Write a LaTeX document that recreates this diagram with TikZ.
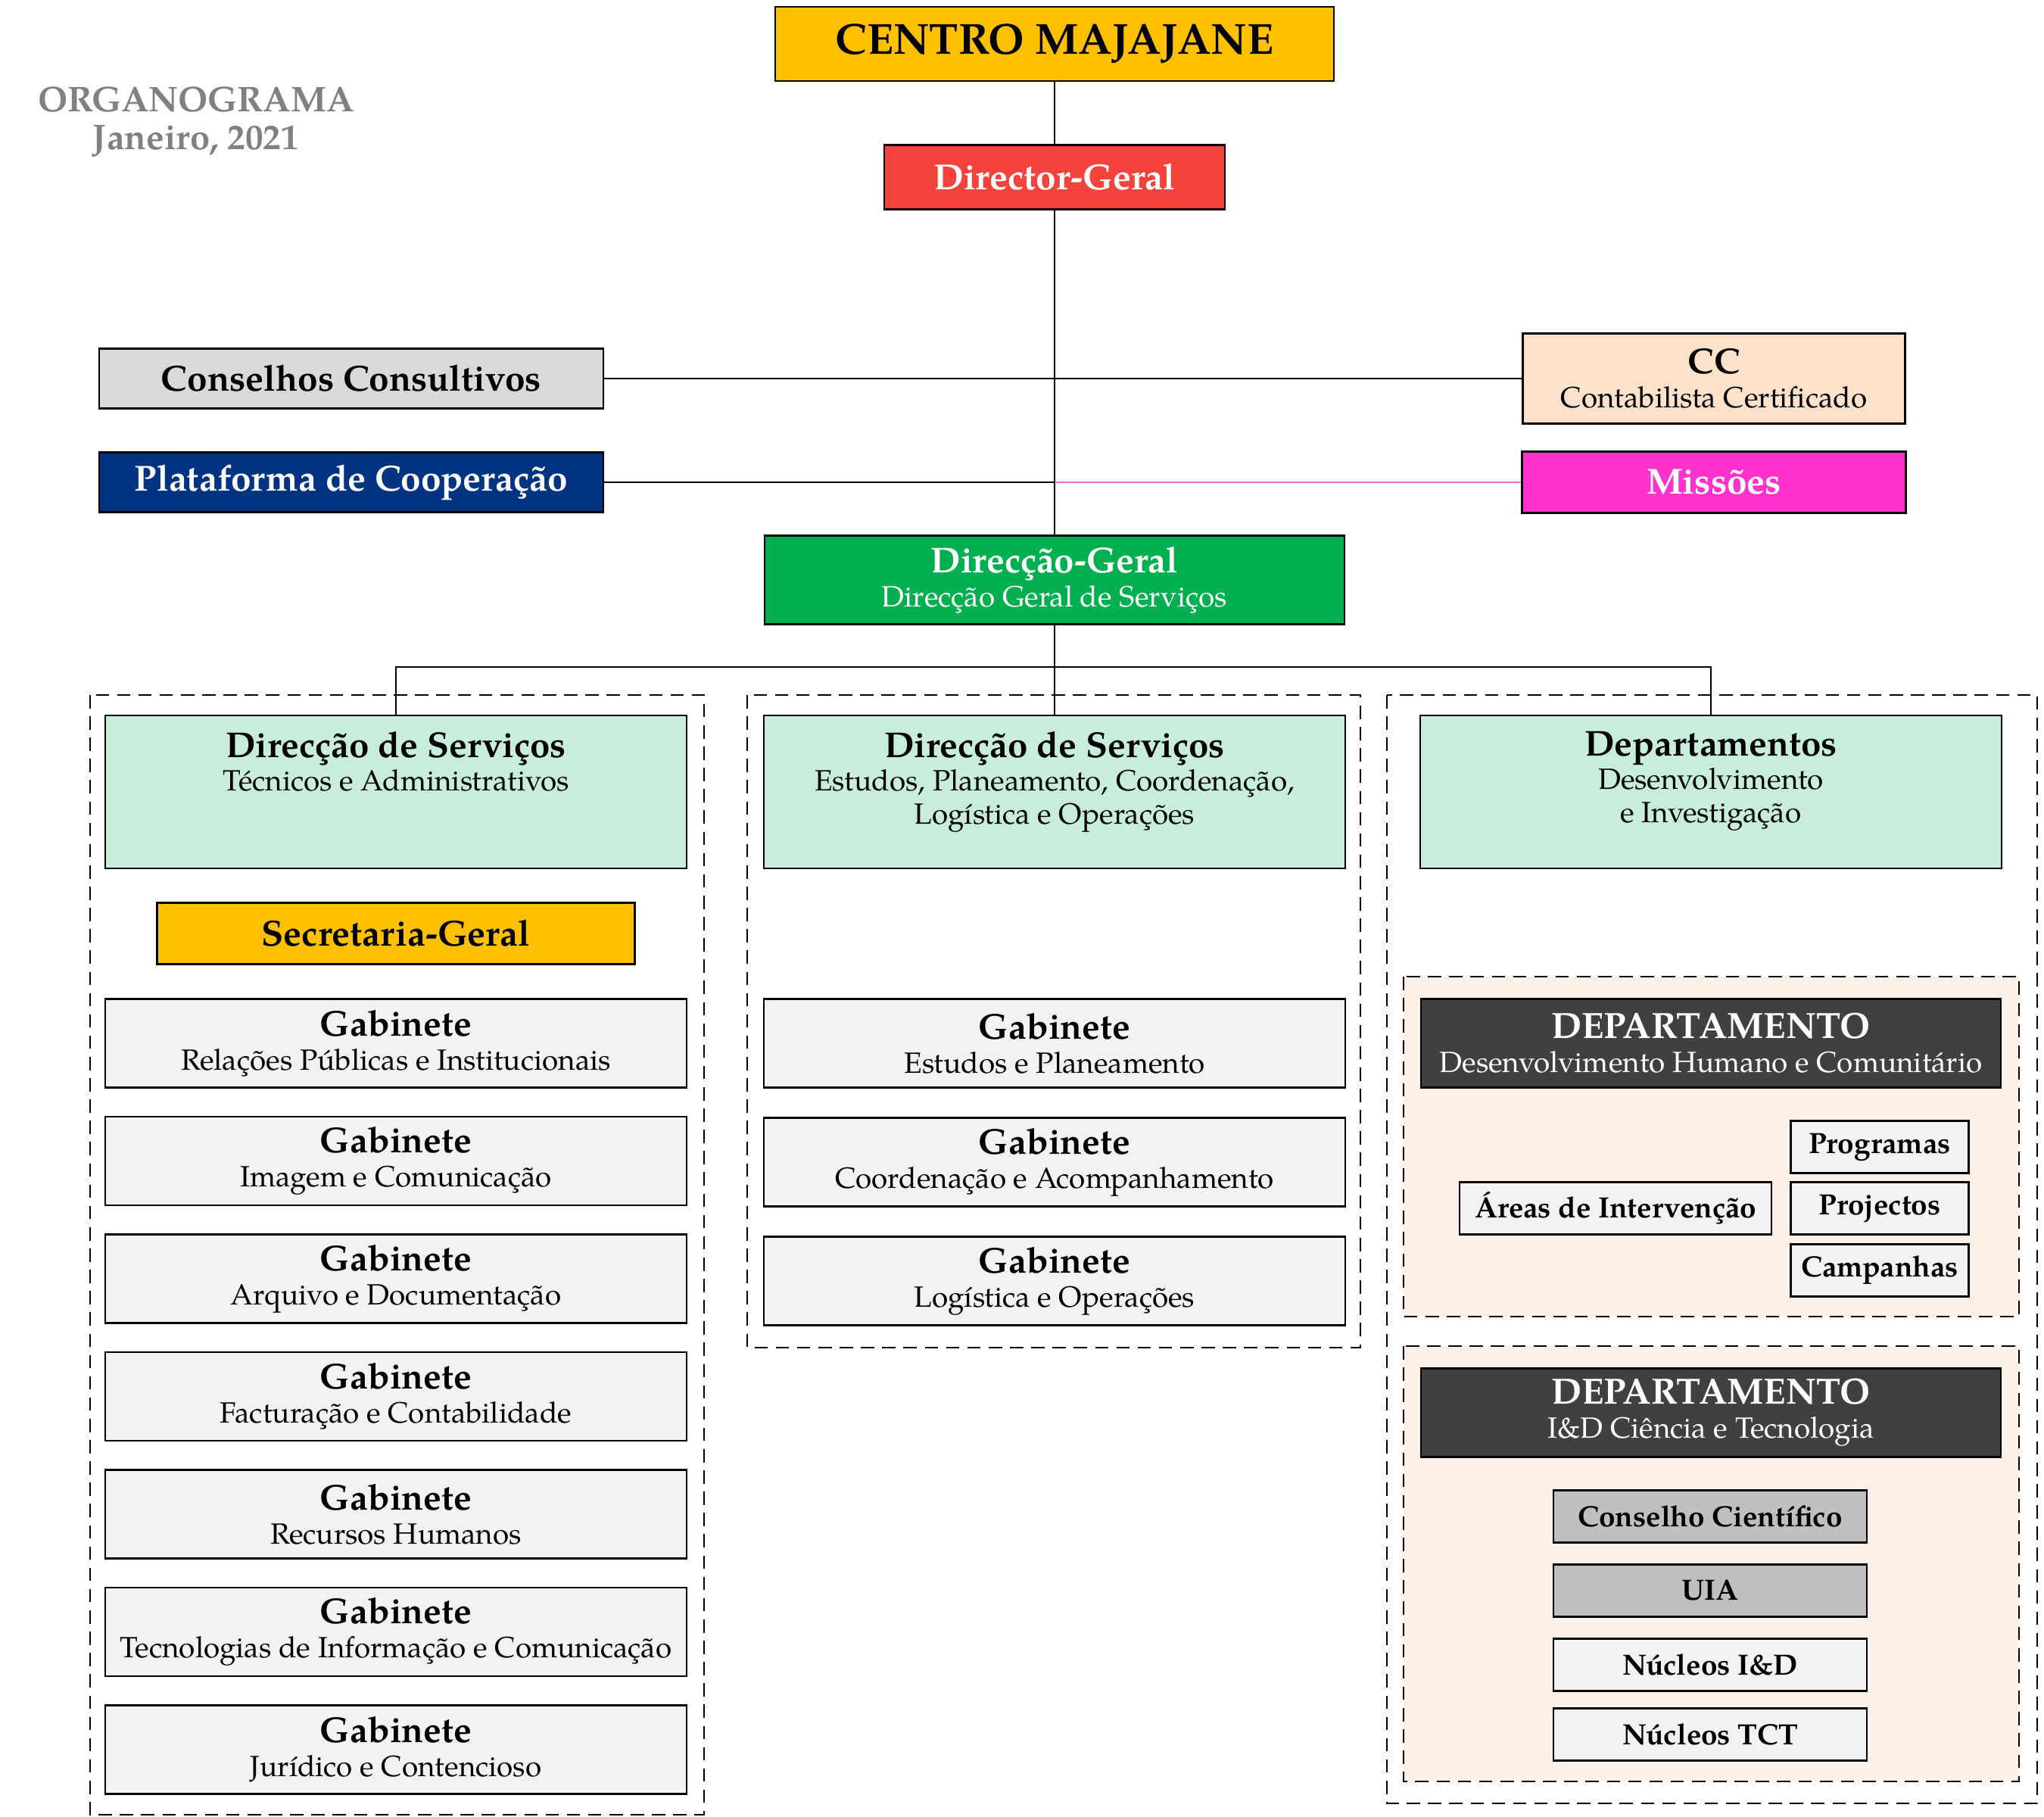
\documentclass[tikz,border=0pt]{standalone}
\usepackage{fontspec}
\setmainfont{texgyrepagella}[Extension=.otf,UprightFont=*-regular,BoldFont=*-bold,ItalicFont=*-italic,BoldItalicFont=*-bolditalic]
\usepackage{xcolor}
\definecolor{gold}{HTML}{FFC000}
\definecolor{dirred}{HTML}{F4433A}
\definecolor{conselho}{HTML}{D9D9D9}
\definecolor{navy}{HTML}{003380}
\definecolor{peach}{HTML}{FDE1CB}
\definecolor{missao}{HTML}{FF33CC}
\definecolor{missaoline}{HTML}{EE6FD0}
\definecolor{dggreen}{HTML}{00B050}
\definecolor{mint}{HTML}{C8EEDB}
\definecolor{gab}{HTML}{F2F2F2}
\definecolor{deptbg}{HTML}{FDF0E6}
\definecolor{deptdark}{HTML}{404040}
\definecolor{midgray}{HTML}{BFBFBF}
\definecolor{titlegray}{HTML}{808080}
\usetikzlibrary{positioning}
\tikzset{
	unit/.style={draw=black, line width=0.6pt, rectangle, align=center, inner sep=0pt, font=\fontsize{11}{12.8}\selectfont},
	topunit/.style={unit, minimum height=0.8cm, font=\fontsize{13.6}{15}\selectfont\bfseries},
	header/.style={unit, fill=mint, minimum width=7.68cm, minimum height=2.02cm},
	headertext/.style={align=center, inner sep=0pt, font=\fontsize{11}{12.5}\selectfont},
	gabinete/.style={unit, fill=gab, minimum width=7.68cm, minimum height=1.17cm},
	darkdept/.style={unit, fill=deptdark, text=white, minimum width=7.66cm, minimum height=1.17cm},
	smallunit/.style={unit, fill=gab, minimum height=0.69cm, font=\fontsize{11}{13}\selectfont\bfseries},
	link/.style={draw=black, line width=0.8pt},
	container/.style={draw=black, line width=0.6pt, dash pattern=on 5pt off 3pt},
}
\newcommand{\unittitle}[1]{{\fontsize{13.5}{15}\selectfont\bfseries #1}}
\newcommand{\depttitle}[1]{{\fontsize{13.7}{16}\selectfont\bfseries #1}}

\begin{document}
\begin{tikzpicture}
	\useasboundingbox (0,0) rectangle (27,-24);

	% dashed columns
	\draw[container] (1.19,-9.18) rectangle (9.30,-23.97);
	\draw[container] (9.87,-9.18) rectangle (17.97,-17.80);
	\draw[container] (18.32,-9.18) rectangle (26.91,-23.82);
	\filldraw[container, fill=deptbg] (18.54,-12.90) rectangle (26.67,-17.39);
	\filldraw[container, fill=deptbg] (18.54,-17.78) rectangle (26.67,-23.53);

	% title
	\node[align=center, text=titlegray, font=\fontsize{13.4}{14.4}\selectfont\bfseries] (organo) at (2.59,-1.61) {ORGANOGRAMA\\Janeiro, 2021};

	% top of the tree
	\node[topunit, fill=gold, minimum width=7.38cm, minimum height=0.98cm, font=\fontsize{16.3}{19}\selectfont\bfseries] (centro) at (13.93,-0.58) {CENTRO MAJAJANE};
	\node[topunit, fill=dirred, text=white, minimum width=4.50cm, minimum height=0.85cm] (director) at (13.93,-2.34) {Director-Geral};

	\node[topunit, fill=conselho, minimum width=6.66cm, minimum height=0.79cm] (conselhos) at (4.64,-5.00) {Conselhos Consultivos};
	\node[topunit, fill=navy, text=white, minimum width=6.66cm, minimum height=0.79cm] (plataforma) at (4.64,-6.37) {Plataforma de Cooperação};
	\node[unit, fill=peach, minimum width=5.05cm, minimum height=1.19cm] (cc) at (22.64,-5.00) {\unittitle{CC}\\Contabilista Certificado};
	\node[topunit, fill=missao, text=white, minimum width=5.07cm, minimum height=0.81cm] (missoes) at (22.64,-6.37) {Missões};

	\node[unit, fill=dggreen, text=white, minimum width=7.66cm, minimum height=1.17cm] (dgeral) at (13.93,-7.66) {\unittitle{Direcção-Geral}\\Direcção Geral de Serviços};

	% headers of the three columns
	\node[header] (servA) at (5.23,-10.46) {};
	\node[headertext, below=0.22cm of servA.north] (servAtxt) {\unittitle{Direcção de Serviços}\\Técnicos e Administrativos};
	\node[header] (servB) at (13.93,-10.46) {};
	\node[headertext, below=0.22cm of servB.north] (servBtxt) {\unittitle{Direcção de Serviços}\\Estudos, Planeamento, Coordenação,\\Logística e Operações};
	\node[header] (depts) at (22.60,-10.46) {};
	\node[headertext, below=0.22cm of depts.north] (deptstxt) {\unittitle{Departamentos}\\Desenvolvimento\\e Investigação};

	% left column
	\node[topunit, fill=gold, minimum width=6.31cm, minimum height=0.81cm] (secretaria) at (5.23,-12.33) {Secretaria-Geral};
	\foreach \sub [count=\i] in {Relações Públicas e Institucionais, Imagem e Comunicação, Arquivo e Documentação, Facturação e Contabilidade, Recursos Humanos, Tecnologias de Informação e Comunicação, Jurídico e Contencioso}
		\node[gabinete] (gabA\i) at (5.23,{-13.78-(\i-1)*1.555}) {\unittitle{Gabinete}\\\sub};

	% middle column
	\foreach \sub [count=\i] in {Estudos e Planeamento, Coordenação e Acompanhamento, Logística e Operações}
		\node[gabinete] (gabB\i) at (13.93,{-13.78-(\i-1)*1.57}) {\unittitle{Gabinete}\\\sub};

	% right column
	\node[darkdept] (dept1) at (22.60,-13.78) {\depttitle{DEPARTAMENTO}\\Desenvolvimento Humano e Comunitário};
	\node[smallunit, minimum width=2.35cm] (programas) at (24.83,-15.15) {Programas};
	\node[smallunit, minimum width=2.35cm] (projectos) at (24.83,-15.96) {Projectos};
	\node[smallunit, minimum width=2.35cm] (campanhas) at (24.83,-16.78) {Campanhas};
	\node[smallunit, minimum width=4.12cm] (areas) at (21.34,-15.96) {Áreas de Intervenção};

	\node[darkdept] (dept2) at (22.60,-18.66) {\depttitle{DEPARTAMENTO}\\I\&D Ciência e Tecnologia};
	\node[smallunit, fill=midgray, minimum width=4.14cm] (conscient) at (22.59,-20.03) {Conselho Científico};
	\node[smallunit, fill=midgray, minimum width=4.14cm] (uia) at (22.59,-21.01) {UIA};
	\node[smallunit, minimum width=4.14cm] (nucleosid) at (22.59,-21.99) {Núcleos I\&D};
	\node[smallunit, minimum width=4.14cm] (nucleostct) at (22.59,-22.91) {Núcleos TCT};

	% connectors
	\coordinate (jplat) at (director.south |- plataforma.east);
	\coordinate (bus) at (13.93,-8.81);
	\draw[link] (conselhos) -- (cc);
	\draw[link] (plataforma) -- (jplat);
	\draw[link, draw=missaoline] (jplat) -- (missoes);
	\draw[link] (centro) -- (director);
	\draw[link] (director) -- (dgeral);
	\draw[link] (dgeral) -- (servB);
	\draw[link] (servA.north) |- (bus) -| (depts.north);
\end{tikzpicture}
\end{document}
